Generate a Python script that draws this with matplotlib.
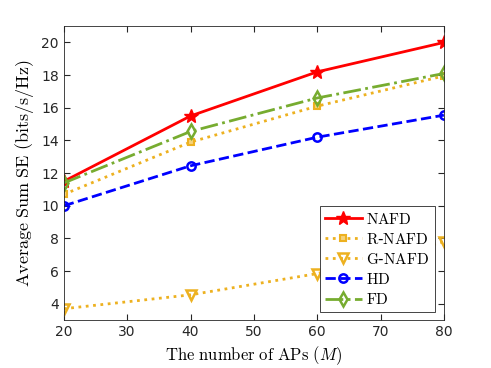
import numpy as np
import matplotlib
matplotlib.use('Agg')
import matplotlib.pyplot as plt

plt.rcParams['mathtext.fontset'] = 'cm'
plt.rcParams['font.family'] = 'DejaVu Sans'

# number of APs
aps = [20, 40, 60, 80]

# average sum SE per scheme
nafd = [11.5, 15.5, 18.2, 20.0]
r_nafd = [10.7, 13.9, 16.1, 17.95]
g_nafd = [3.7, 4.55, 5.85, 7.8]
hd = [10.0, 12.45, 14.2, 15.55]
fd = [11.4, 14.55, 16.6, 18.1]

red = '#FF0000'
orange = '#EDB120'
blue = '#0000FF'
green = '#77AC30'

fig = plt.figure(figsize=(4.91, 3.68), dpi=100)
ax = fig.add_axes([0.130, 0.130, 0.774, 0.799])

ax.plot(aps, nafd, color=red, linestyle='-', linewidth=2, marker='*',
        markersize=10, label=r'$\mathrm{NAFD}$')
ax.plot(aps, r_nafd, color=orange, linestyle=':', linewidth=2, marker='s',
        markersize=5, markerfacecolor='#F5D27A', markeredgewidth=1.5,
        label=r'$\mathrm{R}$-$\mathrm{NAFD}$')
ax.plot(aps, g_nafd, color=orange, linestyle=':', linewidth=2, marker='v',
        markersize=7, markerfacecolor='none', markeredgewidth=1.8,
        label=r'$\mathrm{G}$-$\mathrm{NAFD}$')
ax.plot(aps, hd, color=blue, linestyle='--', linewidth=2, marker='o',
        markersize=6, markerfacecolor='none', markeredgewidth=1.8,
        label=r'$\mathrm{HD}$')
ax.plot(aps, fd, color=green, linestyle='-.', linewidth=2, marker='d',
        markersize=7, markerfacecolor='none', markeredgewidth=1.8,
        label=r'$\mathrm{FD}$')

ax.set_xlim(20, 80)
ax.set_ylim(3, 21)
ax.set_xticks([20, 30, 40, 50, 60, 70, 80])
ax.set_yticks([4, 6, 8, 10, 12, 14, 16, 18, 20])

ax.tick_params(direction='in', top=True, right=True, labelsize=10,
               color='#262626', labelcolor='#262626', length=4)
for s in ax.spines.values():
    s.set_color('#262626')
    s.set_linewidth(0.6)

ax.set_xlabel(r'$\mathrm{The\ number\ of\ APs\ (}M\mathrm{)}$', fontsize=12)
ax.set_ylabel(r'$\mathrm{Average\ Sum\ SE\ (bits/s/Hz)}$', fontsize=13)

leg = ax.legend(loc='lower right', bbox_to_anchor=(0.976, 0.027), fontsize=11,
                fancybox=False, edgecolor='#262626', framealpha=1,
                borderpad=0.35, labelspacing=0.33, handlelength=2.4,
                handletextpad=0.3, borderaxespad=0)
leg.get_frame().set_linewidth(0.6)

fig.savefig('out.png', dpi=100)
